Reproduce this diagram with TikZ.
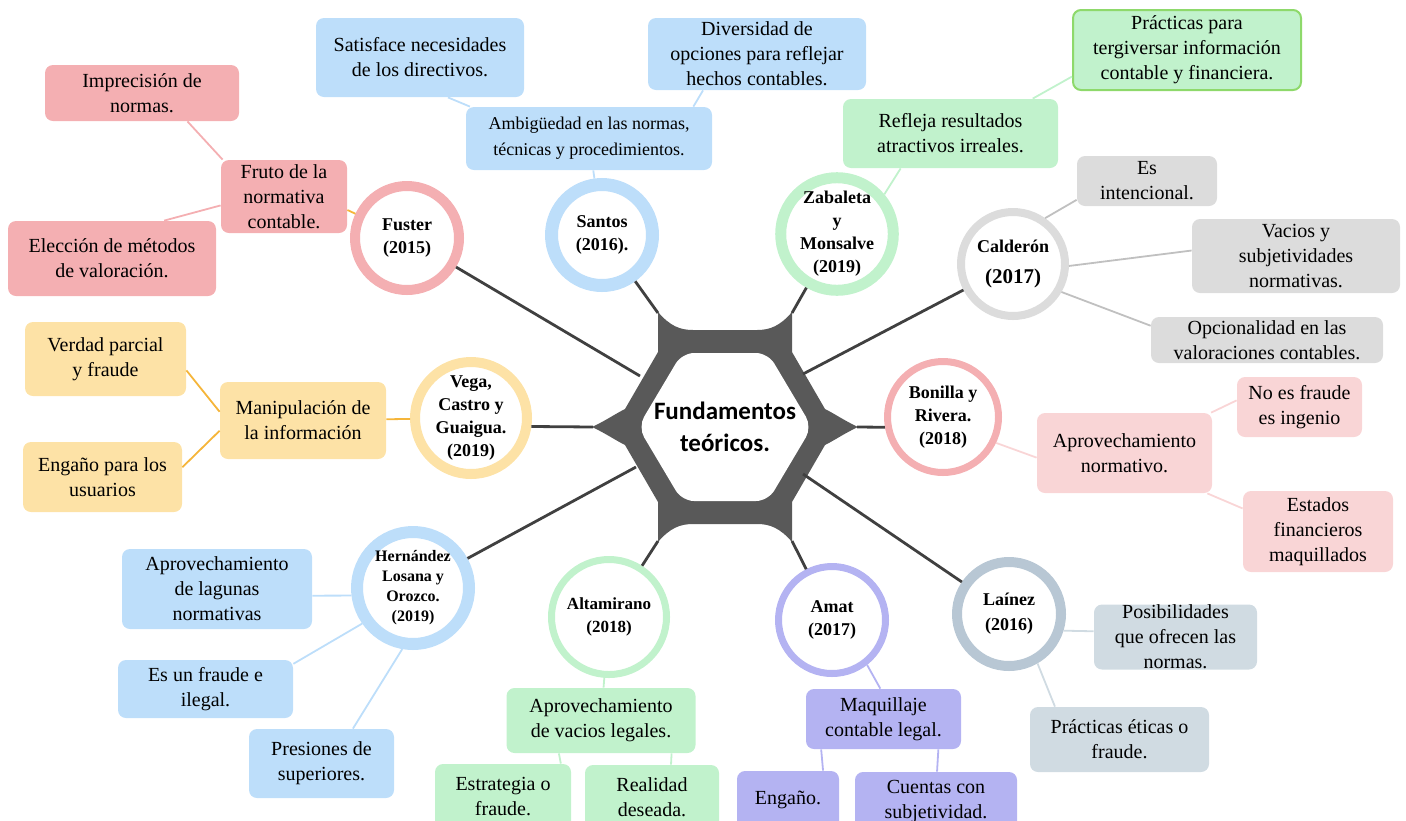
\documentclass[tikz,border=0pt]{standalone}
\usepackage{fontspec}
\setmainfont{Liberation Serif}
\newfontfamily\hexfont{Carlito}
\definecolor{pinkA}{HTML}{F4AFB2}
\definecolor{pinkB}{HTML}{F9D5D6}
\definecolor{blueA}{HTML}{BDDEFA}
\definecolor{greenA}{HTML}{C1F2CC}
\definecolor{greenB}{HTML}{8ED96B}
\definecolor{grayA}{HTML}{DCDCDC}
\definecolor{grayL}{HTML}{C0C0C0}
\definecolor{yellowA}{HTML}{FDE2A6}
\definecolor{orangeL}{HTML}{F5B53A}
\definecolor{lavA}{HTML}{B4B3F2}
\definecolor{slateA}{HTML}{B8C7D4}
\definecolor{slateB}{HTML}{D0DBE2}
\definecolor{hexgray}{HTML}{595959}
\definecolor{hubgray}{HTML}{404040}
\begin{document}
\begin{tikzpicture}[x=0.5pt, y=-0.5pt,
    ring/.style={circle, fill=white, draw=#1, align=center, inner sep=0pt,
      font=\bfseries\fontsize{9}{11.5}\selectfont},
    card/.style={rounded corners=4pt, fill=#1, align=center, inner sep=0pt,
      font=\fontsize{10}{12.5}\selectfont},
    twig/.style={draw=#1, line width=0.9pt},
    hub/.style={draw=hubgray, line width=1.4pt}]
    \useasboundingbox (0,0) rectangle (1406,820);

    \fill[hexgray] (592,427) .. controls (605,421) and (615,414) .. (625,409) -- (658,352) -- (658,312)
      .. controls (670,326) and (680,330) .. (693,330) -- (757,330) .. controls (770,330) and (780,326) .. (792,312)
      -- (792,352) -- (825,409) .. controls (835,414) and (845,421) .. (858,427)
      .. controls (845,433) and (835,440) .. (825,445) -- (792,502) -- (792,542)
      .. controls (780,528) and (770,524) .. (757,524) -- (693,524) .. controls (680,524) and (670,528) .. (658,542)
      -- (658,502) -- (625,445) .. controls (615,440) and (605,433) .. (592,427) -- cycle;
    \fill[white, rounded corners=6pt] (638,427) -- (682,353) -- (768,353) -- (812,427) -- (768,501) -- (682,501) -- cycle;
    \node[font=\hexfont\bfseries\fontsize{12.5}{16}\selectfont, align=center] (fund) at (725,427) {Fundamentos\\teóricos.};

    \coordinate (hFu) at (640,376);
    \coordinate (hSa) at (658,313);
    \coordinate (hZa) at (792,313);
    \coordinate (hCa) at (803,374);
    \coordinate (hBo) at (857,427);
    \coordinate (hVe) at (593,427);
    \coordinate (hHe) at (636,467);
    \coordinate (hAl) at (658,541);
    \coordinate (hAm) at (792,541);
    \coordinate (hLa) at (803,474);

    \node[ring=pinkA, line width=5pt, minimum size=52pt] (fuster) at (407,238) {Fuster\\(2015)};
    \node[ring=blueA, line width=6.5pt, minimum size=50.5pt] (santos) at (602,235) {Santos\\(2016).};
    \node[ring=greenA, line width=5.5pt, minimum size=52.5pt] (zabaleta) at (837,234) {Zabaleta\\y\\Monsalve\\(2019)};
    \node[ring=grayA, line width=4pt, minimum size=52pt] (calderon) at (1013,264)
      {Calderón\\[4pt]{\fontsize{10.5}{12}\selectfont(2017)}};
    \node[ring=pinkA, line width=3.5pt, minimum size=55.5pt] (bonilla) at (943,417) {Bonilla y\\Rivera.\\(2018)};
    \node[ring=yellowA, line width=5pt, minimum size=56pt] (vega) at (471,418) {Vega,\\Castro y\\Guaigua.\\(2019)};
    \node[ring=blueA, line width=6pt, minimum size=56pt, font=\bfseries\fontsize{8}{10}\selectfont] (hernandez) at (413,588)
      {Hernández\\Losana y\\Orozco.\\(2019)};
    \node[ring=greenA, line width=3.5pt, minimum size=57.5pt, font=\bfseries\fontsize{8.5}{11.5}\selectfont] (altamirano) at (609,617)
      {Altamirano\\(2018)};
    \node[ring=lavA, line width=3.5pt, minimum size=53.5pt] (amat) at (832,620) {Amat\\(2017)};
    \node[ring=slateA, line width=5pt, minimum size=52pt, font=\bfseries\fontsize{9}{12.5}\selectfont] (lainez) at (1009,614) {Laínez\\(2016)};

    \draw[hub] (fuster) -- (hFu);
    \draw[hub] (santos) -- (hSa);
    \draw[hub] (zabaleta) -- (hZa);
    \draw[hub] (calderon) -- (hCa);
    \draw[hub] (bonilla.190) -- (hBo);
    \draw[hub] (vega.-8) -- (hVe);
    \draw[hub] (hernandez) -- (hHe);
    \draw[hub] (altamirano) -- (hAl);
    \draw[hub] (amat) -- (hAm);
    \draw[hub] (lainez) -- (hLa);

    \node[card=pinkA, minimum width=97pt, minimum height=28pt] (imprec) at (142,93) {Imprecisión de\\normas.};
    \node[card=pinkA, minimum width=63pt, minimum height=36.5pt] (fruto) at (284,196.5) {Fruto de la\\normativa\\contable.};
    \node[card=pinkA, minimum width=104pt, minimum height=37.5pt] (eleccion) at (112,258.5) {Elección de métodos\\de valoración.};
      \draw[twig=pinkA] (imprec.-32) -- (fruto.149);
      \draw[twig=pinkA] (eleccion.36) -- (fruto.-172);
      \draw[twig=orangeL] (fruto.-12) -- (fuster);

    \node[card=blueA, minimum width=104pt, minimum height=39.5pt] (satisface) at (420,57.5) {Satisface necesidades\\de los directivos.};
    \node[card=blueA, minimum width=109pt, minimum height=36pt] (diversidad) at (757,54) {Diversidad de\\opciones para reflejar\\hechos contables.};
    \node[card=blueA, minimum width=123pt, minimum height=31.5pt, font=\fontsize{9}{13}\selectfont] (ambig) at (589,138.5)
      {Ambigüedad en las normas,\\técnicas y procedimientos.};
      \draw[twig=blueA] (satisface.-55) -- (ambig.165);
      \draw[twig=blueA] (diversidad.-146) -- (ambig.17);
      \draw[twig=blueA] (ambig) -- (santos);

    \node[card=greenA, draw=greenB, line width=1pt, minimum width=114pt, minimum height=40pt] (practicas) at (1187,50)
      {Prácticas para\\tergiversar información\\contable y financiera.};
    \node[card=greenA, minimum width=107.5pt, minimum height=34.5pt] (refleja) at (950.5,133.5) {Refleja resultados\\atractivos irreales.};
      \draw[twig=greenA] (refleja.23) -- (practicas.-167);
      \draw[twig=greenA] (zabaleta.40) -- (refleja.-145);

    \node[card=grayA, minimum width=70pt, minimum height=25pt] (esint) at (1147,181) {Es\\intencional.};
    \node[card=grayA, minimum width=104pt, minimum height=37pt] (vacios) at (1296,256) {Vacios y\\subjetividades\\normativas.};
    \node[card=grayA, minimum width=116pt, minimum height=23pt] (opcional) at (1267,340) {Opcionalidad en las\\valoraciones contables.};
      \draw[twig=grayL] (calderon.55) -- (esint.-165);
      \draw[twig=grayL] (calderon.-2) -- (vacios.177);
      \draw[twig=grayL] (calderon.-30) -- (opcional.173);

    \node[card=pinkB, minimum width=87.5pt, minimum height=40pt] (aprovnorm) at (1124.5,453) {Aprovechamiento\\normativo.};
    \node[card=pinkB, minimum width=62.5pt, minimum height=30pt] (noesfraude) at (1299.5,407) {No es fraude\\es ingenio};
    \node[card=pinkB, minimum width=75pt, minimum height=40.5pt] (estados) at (1318,531.5) {Estados\\financieros\\maquillados};
      \draw[twig=pinkB] (bonilla.-26) -- (aprovnorm.-177);
      \draw[twig=pinkB] (aprovnorm.25) -- (noesfraude.174);
      \draw[twig=pinkB] (aprovnorm.-26) -- (estados.163);

    \node[card=yellowA, minimum width=83pt, minimum height=38.5pt] (manip) at (303,420.5) {Manipulación de\\la información};
    \node[card=yellowA, minimum width=80.5pt, minimum height=37pt] (verdad) at (105.5,359) {Verdad parcial\\y fraude};
    \node[card=yellowA, minimum width=79.5pt, minimum height=35pt] (engano) at (102.5,477) {Engaño para los\\usuarios};
      \draw[twig=orangeL] (verdad.-8) -- (manip.174);
      \draw[twig=orangeL] (engano.7) -- (manip.-173);
      \draw[twig=orangeL] (manip) -- (vega);

    \node[card=blueA, minimum width=95pt, minimum height=40pt] (lagunas) at (217,589) {Aprovechamiento\\de lagunas\\normativas};
    \node[card=blueA, minimum width=87.5pt, minimum height=29pt] (esunfraude) at (205.5,689) {Es un fraude e\\ilegal.};
    \node[card=blueA, minimum width=72.5pt, minimum height=34.5pt] (presiones) at (321.5,763.5) {Presiones de\\superiores.};
      \draw[twig=blueA] (hernandez.-173) -- (lagunas.-4);
      \draw[twig=blueA] (hernandez.-145) -- (esunfraude.16);
      \draw[twig=blueA] (hernandez.-100) -- (presiones.48);

    \node[card=greenA, minimum width=94.5pt, minimum height=32.5pt] (vacioslegales) at (601,720.5) {Aprovechamiento\\de vacios legales.};
    \node[card=greenA, minimum width=68pt, minimum height=33pt] (estrategia) at (503,797) {Estrategia o\\fraude.};
    \node[card=greenA, minimum width=67pt, minimum height=32.5pt] (realidad) at (652,797.5) {Realidad\\deseada.};
      \draw[twig=greenA] (altamirano) -- (vacioslegales);
      \draw[twig=greenA] (vacioslegales.-142) -- (estrategia.30);
      \draw[twig=greenA] (vacioslegales.-25) -- (realidad.60);

    \node[card=lavA, minimum width=77.5pt, minimum height=30pt] (maquillaje) at (883.5,719) {Maquillaje\\contable legal.};
    \node[card=lavA, minimum width=51pt, minimum height=29pt] (enganoamat) at (788,800) {Engaño.};
    \node[card=lavA, minimum width=81pt, minimum height=29pt] (cuentas) at (936,801) {Cuentas con\\subjetividad.};
      \draw[twig=lavA] (amat.-52) -- (maquillaje.96);
      \draw[twig=lavA] (maquillaje.-154) -- (enganoamat.40);
      \draw[twig=lavA] (maquillaje.-29) -- (cuentas.88);

    \node[card=slateB, minimum width=81.5pt, minimum height=32.5pt] (posib) at (1175.5,637) {Posibilidades\\que ofrecen las\\normas.};
    \node[card=slateB, minimum width=89.5pt, minimum height=32.5pt] (practeticas) at (1119.5,739.5) {Prácticas éticas o\\fraude.};
      \draw[twig=slateB] (lainez.-17) -- (posib.176);
      \draw[twig=slateB] (lainez.-60) -- (practeticas.153);
  \end{tikzpicture}
\end{document}
